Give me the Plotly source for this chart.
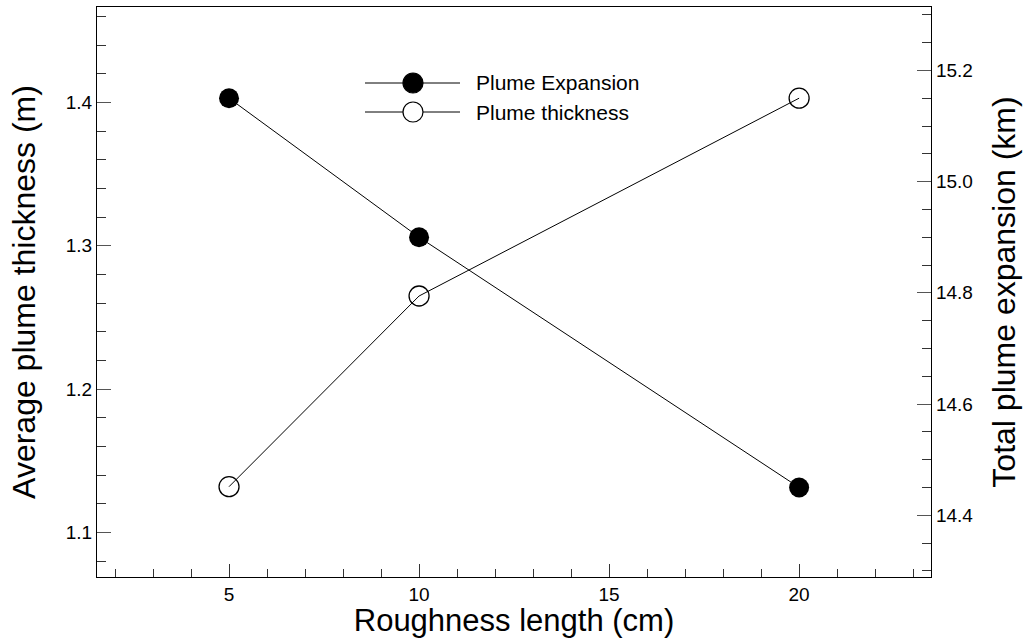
import plotly.graph_objects as go

roughness_cm = [5, 10, 20]
expansion_km = [15.15, 14.90, 14.45]
thickness_m = [1.132, 1.265, 1.403]

legend_names = ["Plume Expansion", "Plume thickness"]

FONT = "Liberation Sans, Arial, sans-serif"

fig = go.Figure()

fig.add_trace(go.Scatter(
    x=roughness_cm, y=thickness_m, mode="lines+markers", name=legend_names[1],
    line=dict(color="black", width=1),
    marker=dict(symbol="circle-open", size=20, color="black", line=dict(width=1.3, color="black")),
    yaxis="y", showlegend=False,
))
fig.add_trace(go.Scatter(
    x=roughness_cm, y=expansion_km, mode="lines+markers", name=legend_names[0],
    line=dict(color="black", width=1),
    marker=dict(symbol="circle", size=20, color="black", line=dict(width=0)),
    yaxis="y2", showlegend=False,
))

# manual legend (long line samples like the reference)
L = 97; R = 931; T = 7; B = 577
W = R - L; H = B - T
def px(x): return (x - L) / W
def py(y): return (B - y) / H

shapes = []
annotations = []
rows = [(83, True, legend_names[0]), (112, False, legend_names[1])]
for ypix, filled, name in rows:
    shapes.append(dict(type="line", xref="paper", yref="paper", x0=px(365), x1=px(460),
                       y0=py(ypix), y1=py(ypix), line=dict(color="black", width=1)))
    shapes.append(dict(type="circle", xref="paper", yref="paper", xsizemode="pixel", ysizemode="pixel",
                       xanchor=px(413), yanchor=py(ypix), x0=-10, x1=10, y0=-10, y1=10,
                       fillcolor="black" if filled else "white",
                       line=dict(color="black", width=1.2)))
    annotations.append(dict(xref="paper", yref="paper", x=px(474), y=py(ypix), text=name,
                            showarrow=False, xanchor="left", yanchor="middle",
                            font=dict(family=FONT, size=21, color="black")))

fig.update_layout(
    width=1026, height=638,
    margin=dict(l=L, r=1026 - R, t=T, b=638 - B),
    paper_bgcolor="white", plot_bgcolor="white",
    showlegend=False,
    font=dict(family=FONT, color="black"),
    shapes=shapes, annotations=annotations,
    xaxis=dict(
        range=[1.526, 23.47], tickvals=[5, 10, 15, 20], ticks="inside", ticklen=13, tickwidth=1,
        tickcolor="#333", showline=True, linecolor="black", linewidth=1.2, mirror=True,
        showgrid=False, zeroline=False,
        tickfont=dict(family=FONT, size=19, color="black"),
        minor=dict(dtick=1, tick0=0, ticks="inside", ticklen=8, tickcolor="#333", showgrid=False),
        title=dict(text="Roughness length (cm)", font=dict(family=FONT, size=31, color="black"), standoff=2),
    ),
    yaxis=dict(
        range=[1.069, 1.4666], tickvals=[1.1, 1.2, 1.3, 1.4], ticks="inside", ticklen=14, tickwidth=1,
        tickcolor="#555", showline=True, linecolor="black", linewidth=1.2,
        showgrid=False, zeroline=False,
        tickfont=dict(family=FONT, size=19, color="black"),
        minor=dict(dtick=0.02, tick0=1.0, ticks="inside", ticklen=9, tickcolor="#333", showgrid=False),
        title=dict(text="Average plume thickness (m)", font=dict(family=FONT, size=32, color="black"), standoff=20),
    ),
    yaxis2=dict(
        overlaying="y", side="right",
        range=[14.289, 15.314], tickvals=[14.4, 14.6, 14.8, 15.0, 15.2], ticktext=["14.4", "14.6", "14.8", "15.0", "15.2"],
        ticks="inside", ticklen=14, tickwidth=1, tickcolor="#555",
        showline=True, linecolor="black", linewidth=1.2,
        showgrid=False, zeroline=False,
        tickfont=dict(family=FONT, size=19, color="black"),
        minor=dict(dtick=0.05, tick0=14.0, ticks="inside", ticklen=9, tickcolor="#333", showgrid=False),
        title=dict(text="Total plume expansion (km)", font=dict(family=FONT, size=32, color="black"), standoff=20),
    ),
)

fig.write_html("out.html")
